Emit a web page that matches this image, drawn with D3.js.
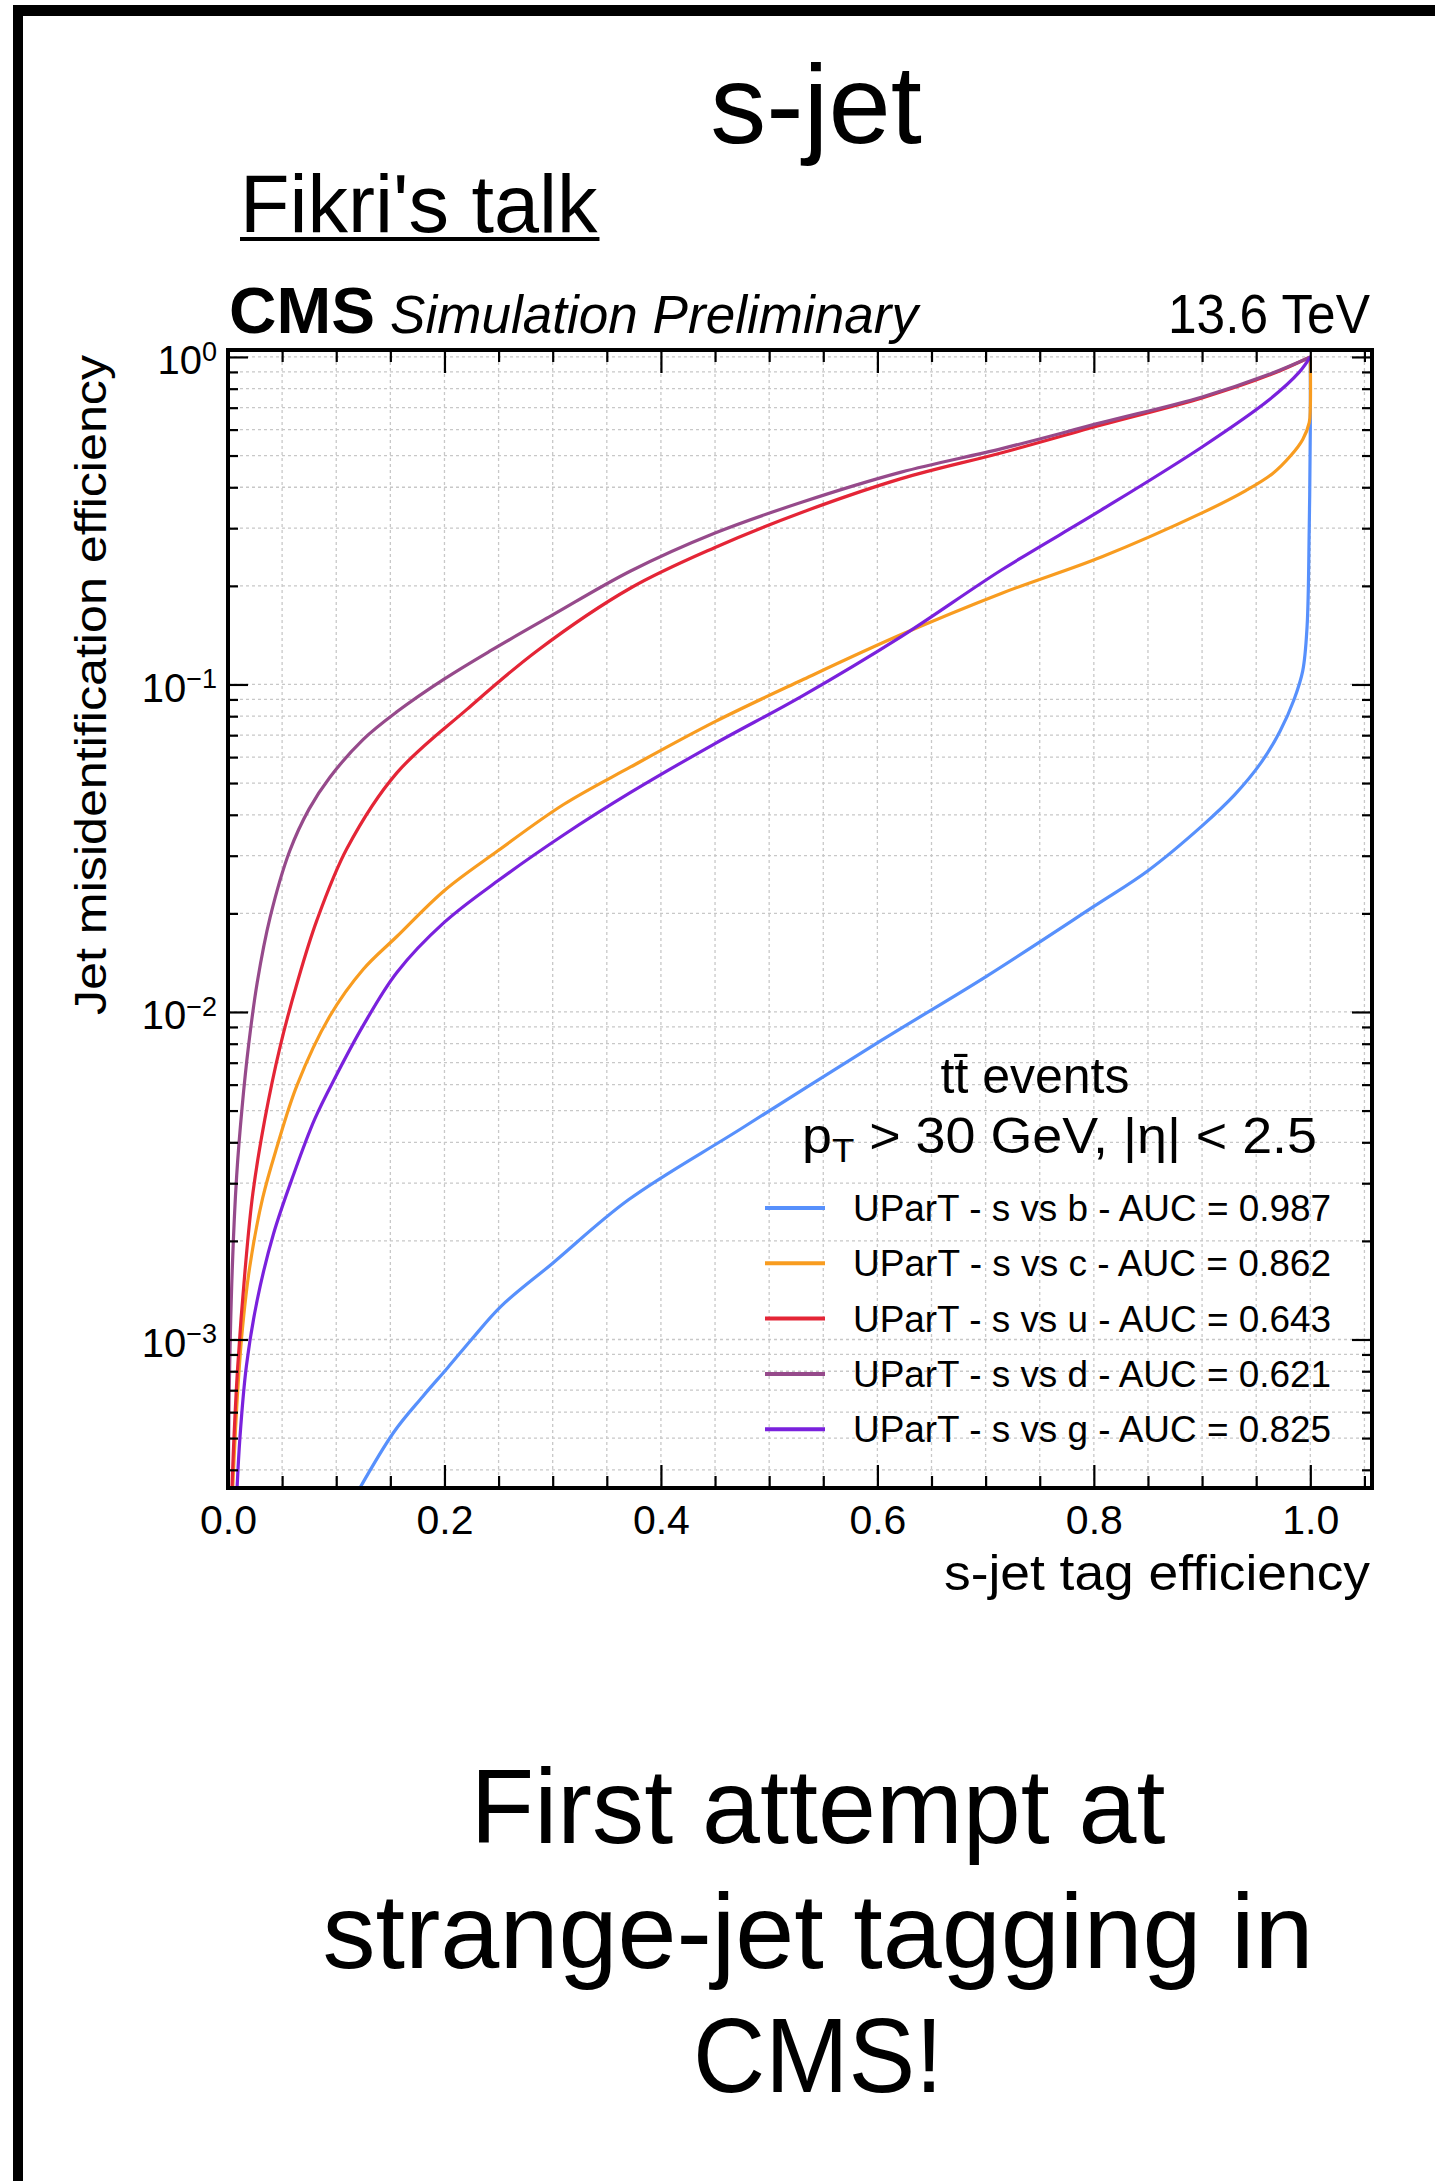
<!DOCTYPE html>
<html><head><meta charset="utf-8">
<script src="https://cdn.jsdelivr.net/npm/d3@7"></script>
<style>
body{margin:0;background:#fff}
svg{display:block}
text{font-family:"Liberation Sans",Arial,Helvetica,sans-serif;fill:#000}
</style>
</head><body>
<svg id="c" width="1435" height="2181"></svg>
<script>
// ---------------- data ----------------
const seriesNames = ["UParT - s vs b","UParT - s vs c","UParT - s vs u","UParT - s vs d","UParT - s vs g"];
const aucValues = ["0.987","0.862","0.643","0.621","0.825"];
const seriesColors = ["#5790fc","#f89c20","#e42536","#964a8b","#7a21dd"];

// s vs b
const effB = [0.110,0.153,0.180,0.203,0.225,0.252,0.300,0.370,0.474,0.604,0.700,0.800,0.850,0.900,0.930,0.955,0.972,0.985,0.993,0.997,0.999,1.000,1.000];
const misB = [3.0e-4,5.2e-4,6.7e-4,8.2e-4,1.0e-3,1.26e-3,1.71e-3,2.67e-3,4.4e-3,8.2e-3,0.0128,0.021,0.027,0.037,0.046,0.058,0.072,0.090,0.11,0.15,0.30,0.60,1.0];
// s vs c
const effC = [0.004,0.006,0.009,0.013,0.020,0.032,0.045,0.064,0.094,0.125,0.156,0.200,0.249,0.310,0.372,0.450,0.530,0.622,0.715,0.807,0.900,0.940,0.965,0.982,0.993,0.999,1.000,1.000];
const misC = [3.3e-4,4.6e-4,7.0e-4,1.05e-3,1.66e-3,2.7e-3,3.85e-3,6.0e-3,9.7e-3,0.0135,0.017,0.0235,0.031,0.043,0.056,0.077,0.103,0.142,0.19,0.245,0.334,0.39,0.44,0.50,0.56,0.63,0.70,1.0];
// s vs u
const effU = [0.003,0.005,0.009,0.016,0.023,0.034,0.048,0.064,0.082,0.110,0.156,0.221,0.286,0.372,0.450,0.530,0.622,0.715,0.807,0.900,0.962,1.000];
const misU = [3.0e-4,4.6e-4,8.3e-4,1.66e-3,2.8e-3,4.7e-3,7.8e-3,0.0123,0.019,0.0316,0.0537,0.0841,0.127,0.197,0.262,0.335,0.425,0.51,0.62,0.75,0.88,1.0];
// s vs d
const effD = [0.0003,0.001,0.004,0.008,0.013,0.019,0.027,0.039,0.057,0.075,0.094,0.125,0.156,0.200,0.243,0.300,0.372,0.450,0.530,0.622,0.715,0.807,0.900,0.962,1.000];
const misD = [3.0e-4,6.5e-4,1.66e-3,3.16e-3,5.1e-3,7.9e-3,0.0123,0.0195,0.031,0.0417,0.052,0.068,0.0825,0.104,0.127,0.163,0.222,0.29,0.36,0.445,0.525,0.63,0.755,0.885,1.0];
// s vs g
const effG = [0.008,0.011,0.017,0.027,0.042,0.060,0.080,0.100,0.125,0.156,0.200,0.249,0.310,0.372,0.450,0.530,0.622,0.715,0.807,0.900,0.962,0.990,1.000];
const misG = [3.3e-4,5.0e-4,8.3e-4,1.32e-3,2.1e-3,3.15e-3,4.7e-3,6.4e-3,9.1e-3,0.0132,0.0188,0.0251,0.0347,0.0468,0.066,0.092,0.14,0.224,0.341,0.531,0.74,0.90,1.0];

const xTickValues = [0,0.2,0.4,0.6,0.8,1.0];
const xTickLabels = ["0.0","0.2","0.4","0.6","0.8","1.0"];
const yTickValues = [1e-3,1e-2,1e-1,1];
const yTickExponents = ["\u22123","\u22122","\u22121","0"];

const seriesX = [effB,effC,effU,effD,effG];
const seriesY = [misB,misC,misU,misD,misG];

// ---------------- layout ----------------
const svg = d3.select("#c");
const L = 228, R = 1372, T = 350, B = 1488;
const x = d3.scaleLinear().domain([0,1.057]).range([L,R]);
const y = d3.scaleLog().domain([3.52e-4,1.05]).range([B,T]);

// slide frame
svg.append("rect").attr("x",13).attr("y",5).attr("width",1422).attr("height",11).attr("fill","#000");
svg.append("rect").attr("x",13).attr("y",5).attr("width",10).attr("height",2176).attr("fill","#000");

// slide texts
svg.append("text").attr("x",816).attr("y",143).attr("text-anchor","middle")
  .attr("font-size",112).text("s-jet");
const fk = svg.append("text").attr("x",240).attr("y",232).attr("font-size",81).text("Fikri's talk");
const fkw = fk.node().getComputedTextLength();
svg.append("rect").attr("x",240).attr("y",237).attr("width",fkw+2).attr("height",4).attr("fill","#000");

const bottomLines = ["First attempt at","strange-jet tagging in","CMS!"];
const bottomBase = [1843,1968,2092];
const bottomLen = [695,991,250];
bottomLines.forEach((s,i)=>{
  svg.append("text").attr("x",818).attr("y",bottomBase[i]).attr("text-anchor","middle")
    .attr("font-size",105).attr("textLength",bottomLen[i]).attr("lengthAdjust","spacingAndGlyphs").text(s);
});

// clip
svg.append("defs").append("clipPath").attr("id","pc")
  .append("rect").attr("x",L).attr("y",T).attr("width",R-L).attr("height",B-T);

// grid
const gridX = d3.range(1,22).map(i=>+(i*0.05).toFixed(2)).filter(v=>v<1.057);
const gridY = [];
for (let k=-4;k<=0;k++) for (let m=1;m<=9;m++){ const v=m*Math.pow(10,k); if(v>=3.52e-4 && v<=1.05) gridY.push(v); }
const grid = svg.append("g").attr("stroke","#c8c8c8").attr("stroke-width",1.3).attr("stroke-dasharray","3,3");
grid.selectAll(".gx").data(gridX).join("line")
  .attr("x1",d=>x(d)).attr("x2",d=>x(d)).attr("y1",T).attr("y2",B);
grid.selectAll(".gy").data(gridY).join("line")
  .attr("x1",L).attr("x2",R).attr("y1",d=>y(d)).attr("y2",d=>y(d));

// curves
const line = d3.line().x(d=>x(d[0])).y(d=>y(d[1])).curve(d3.curveCatmullRom.alpha(0.5));
const curves = svg.append("g").attr("clip-path","url(#pc)");
seriesX.forEach((xs,i)=>{
  const pts = xs.map((v,j)=>[v,seriesY[i][j]]);
  curves.append("path").attr("d",line(pts)).attr("fill","none")
    .attr("stroke",seriesColors[i]).attr("stroke-width",3.2).attr("stroke-linejoin","round");
});

// axes (inward ticks on all sides)
const xMinor = d3.range(0,22).filter(i=>i%4!==0).map(i=>+(i*0.05).toFixed(2)).filter(v=>v<1.057);
const yMinor = gridY.filter(v=>!yTickValues.includes(v));
function styleAxis(g){ g.select(".domain").remove(); g.selectAll(".tick line").attr("stroke","#000").attr("stroke-width",2.2); }

const xb = svg.append("g").attr("transform",`translate(0,${B})`)
  .call(d3.axisBottom(x).tickValues(xTickValues).tickSize(-23).tickPadding(17)
    .tickFormat((d,i)=>xTickLabels[i]));
styleAxis(xb);
xb.selectAll(".tick text").attr("font-size",41).attr("font-family","Liberation Sans, Arial, sans-serif").attr("fill","#111");
const xbm = svg.append("g").attr("transform",`translate(0,${B})`)
  .call(d3.axisBottom(x).tickValues(xMinor).tickSize(-12).tickFormat(""));
styleAxis(xbm);
const xt = svg.append("g").attr("transform",`translate(0,${T})`)
  .call(d3.axisTop(x).tickValues(xTickValues).tickSize(-23).tickFormat(""));
styleAxis(xt);
const xtm = svg.append("g").attr("transform",`translate(0,${T})`)
  .call(d3.axisTop(x).tickValues(xMinor).tickSize(-12).tickFormat(""));
styleAxis(xtm);

const yl = svg.append("g").attr("transform",`translate(${L},0)`)
  .call(d3.axisLeft(y).tickValues(yTickValues).tickSize(-20).tickPadding(11).tickFormat(()=>""));
styleAxis(yl);
yl.selectAll(".tick text").each(function(d){
  const t = d3.select(this).attr("font-size",40).attr("dy","0.42em")
    .attr("font-family","Liberation Sans, Arial, sans-serif").attr("fill","#111");
  const idx = yTickValues.indexOf(d);
  t.append("tspan").text("10");
  t.append("tspan").attr("dy","-0.5em").attr("font-size",27).text(yTickExponents[idx]);
});
const ylm = svg.append("g").attr("transform",`translate(${L},0)`)
  .call(d3.axisLeft(y).tickValues(yMinor).tickSize(-10).tickFormat(""));
styleAxis(ylm);
const yr = svg.append("g").attr("transform",`translate(${R},0)`)
  .call(d3.axisRight(y).tickValues(yTickValues).tickSize(-20).tickFormat(""));
styleAxis(yr);
const yrm = svg.append("g").attr("transform",`translate(${R},0)`)
  .call(d3.axisRight(y).tickValues(yMinor).tickSize(-10).tickFormat(""));
styleAxis(yrm);

// plot frame
svg.append("rect").attr("x",L).attr("y",T).attr("width",R-L).attr("height",B-T)
  .attr("fill","none").attr("stroke","#000").attr("stroke-width",4);

// plot texts
svg.append("text").attr("x",229).attr("y",333).attr("font-size",64).attr("font-weight","bold")
  .attr("textLength",146).attr("lengthAdjust","spacingAndGlyphs").text("CMS");
svg.append("text").attr("x",390).attr("y",333).attr("font-size",53).attr("font-style","italic")
  .attr("textLength",528).attr("lengthAdjust","spacingAndGlyphs").text("Simulation Preliminary");
svg.append("text").attr("x",1370).attr("y",333).attr("font-size",55).attr("text-anchor","end")
  .attr("textLength",202).attr("lengthAdjust","spacingAndGlyphs").text("13.6 TeV");

svg.append("text").attr("transform","translate(106,355) rotate(-90)").attr("text-anchor","end")
  .attr("font-size",45).attr("textLength",660).attr("lengthAdjust","spacingAndGlyphs")
  .text("Jet misidentification efficiency");
svg.append("text").attr("x",1370).attr("y",1590).attr("text-anchor","end")
  .attr("font-size",50).attr("textLength",426).attr("lengthAdjust","spacingAndGlyphs")
  .text("s-jet tag efficiency");

// legend
svg.append("text").attr("x",1035).attr("y",1093).attr("text-anchor","middle").attr("font-size",50)
  .text("t\u0074\u0304 events");
const pt = svg.append("text").attr("x",802).attr("y",1153).attr("font-size",50)
  .attr("textLength",515).attr("lengthAdjust","spacingAndGlyphs");
pt.append("tspan").text("p");
pt.append("tspan").attr("font-size",34).attr("dy",9).text("T");
pt.append("tspan").attr("dy",-9).text(" > 30 GeV, |\u03b7| < 2.5");

const legY0 = 1208, legDY = 55.3;
seriesNames.forEach((n,i)=>{
  const yy = legY0 + i*legDY;
  svg.append("line").attr("x1",765).attr("x2",825).attr("y1",yy).attr("y2",yy)
    .attr("stroke",seriesColors[i]).attr("stroke-width",4);
  svg.append("text").attr("x",853).attr("y",yy+13).attr("font-size",37)
    .attr("textLength",478).attr("lengthAdjust","spacingAndGlyphs")
    .text(`${n} - AUC = ${aucValues[i]}`);
});
</script>
</body></html>
